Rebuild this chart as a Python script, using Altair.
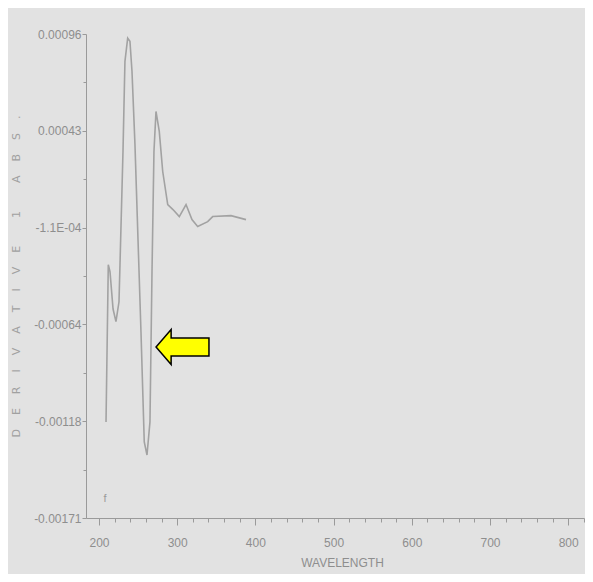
import altair as alt
import pandas as pd

# Spectrum trace (wavelength nm, derivative value)
wavelength = [209.0, 211.9, 214.1, 218.0, 221.7, 225.6, 230.7, 233.2, 236.7, 239.6,
              242.2, 246.0, 253.7, 257.9, 261.4, 265.2, 267.8, 270.3, 272.9, 277.1,
              281.5, 287.9, 294.6, 302.7, 311.3, 318.9, 326.2, 339.0, 345.4, 368.8, 388.0]
deriv = [-0.001184, -0.000315, -0.000354, -0.000560, -0.000630, -0.000520, 0.000311, 0.000809,
         0.000937, 0.000920, 0.000754, 0.000350, -0.000686, -0.001295, -0.001367, -0.001184,
         -0.000354, 0.000311, 0.000532, 0.000422, 0.000200, 0.0000174, -0.0000103, -0.000049,
         0.0000174, -0.0000657, -0.000104, -0.000077, -0.000049, -0.000044, -0.000066]

# Axis ticks
y_major = [-0.001715, -0.00118, -0.000645, -0.00011, 0.000425, 0.00096]
y_labels = ["-0.00171", "-0.00118", "-0.00064", "-1.1E-04", "0.00043", "0.00096"]
x_major = [200, 300, 400, 500, 600, 700, 800]
x_minor_step = 20

# Annotation (arrow) and small mark
arrow_nm = [306.8]
arrow_val = [-0.000770]
mark_nm = [207.7]
mark_val = [-0.00161]

x_domain = [183.4, 820.2]
y_domain = [-0.001715, 0.00096]

df = pd.DataFrame({"nm": wavelength, "val": deriv})

y_minor = [(a + b) / 2 for a, b in zip(y_major[:-1], y_major[1:])]
y_values = sorted(y_major + y_minor)
x_values = list(range(200, 821, x_minor_step))

label_expr = "''"
for v, lab in zip(y_major, y_labels):
    label_expr = f"abs(datum.value - ({v})) < 1e-7 ? '{lab}' : ({label_expr})"
major_test_y = " || ".join(f"abs(datum.value - ({v})) < 1e-7" for v in y_major)

grey = "#8e8e8e"
font = "Liberation Sans"

sp = "\u00a0" * 4
y_title = sp.join(list("DERIVATIVE")) + sp + sp + "1" + sp + sp + sp.join(list("ABS."))

x_axis = alt.Axis(
    values=x_values,
    tickCount=200,
    labelExpr="datum.value % 100 == 0 ? datum.value : ''",
    labelOverlap=False,
    title="WAVELENGTH",
    titleX=256,
    titleY=39,
    titleAlign="center",
    titleBaseline="top",
    grid=False,
    domainColor="#9a9a9a",
    tickColor="#9a9a9a",
    tickSize={"condition": {"test": "datum.value % 100 == 0", "value": 7}, "value": 4},
    labelColor=grey,
    labelFont=font,
    labelFontSize=12,
    labelPadding=12,
    titleFont=font,
    titleFontSize=12,
    titleFontWeight="normal",
    titleColor=grey,
    labelFlush=False,
)

y_axis = alt.Axis(
    values=y_values,
    tickCount=200,
    labelExpr=label_expr,
    labelOverlap=False,
    title=y_title,
    grid=False,
    domainColor="#9a9a9a",
    tickColor="#9a9a9a",
    tickSize={"condition": {"test": major_test_y, "value": 4}, "value": 3},
    labelColor=grey,
    labelFont=font,
    labelFontSize=12,
    labelPadding=1,
    labelFlush=False,
    titleFont="DejaVu Sans",
    titleFontSize=11,
    titleFontWeight="normal",
    titleColor="#a0a0a0",
    titlePadding=12,
)

line = alt.Chart(df).mark_line(color="#a2a2a2", strokeWidth=1.6).encode(
    x=alt.X("nm:Q", scale=alt.Scale(domain=x_domain, nice=False, zero=False), axis=x_axis),
    y=alt.Y("val:Q", scale=alt.Scale(domain=y_domain, nice=False, zero=False), axis=y_axis),
)

arrow_path = "M -1 0 L -0.43 -0.66 L -0.43 -0.34 L 1 -0.34 L 1 0.34 L -0.43 0.34 L -0.43 0.66 Z"
arrow = alt.Chart(pd.DataFrame({"nm": arrow_nm, "val": arrow_val})).mark_point(
    shape=arrow_path, size=2800, filled=True, fill="#ffff00", stroke="#000000",
    strokeWidth=1.5, opacity=1,
).encode(x="nm:Q", y="val:Q")

small = alt.Chart(pd.DataFrame({"nm": mark_nm, "val": mark_val, "t": ["f"]})).mark_text(
    font=font, fontSize=11, color="#9a9a9a"
).encode(x="nm:Q", y="val:Q", text="t:N")

chart = (line + arrow + small).properties(
    width=498,
    height=484,
    autosize="none",
    padding={"left": 78, "top": 26, "right": 1, "bottom": 56},
    background="#e2e2e2",
).configure_view(stroke=None)

chart.save("out.html", embed_options={"renderer": "svg", "actions": False})
